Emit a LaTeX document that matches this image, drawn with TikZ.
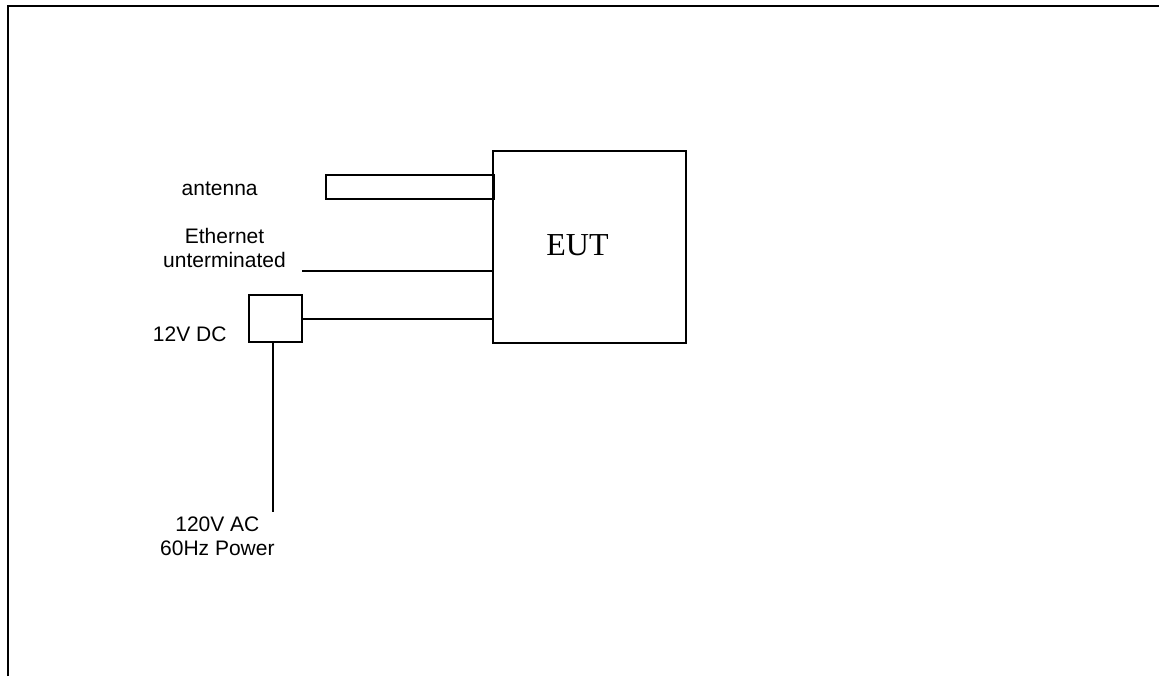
\documentclass[tikz,border=0pt]{standalone}
\usepackage{fontspec}
\setmainfont{Liberation Sans}
\newfontfamily\eutfont{Liberation Serif}
\usetikzlibrary{positioning}

\begin{document}
\begin{tikzpicture}[x=0.5pt, y=-0.5pt, line width=0.8pt,
  unit/.style={draw, inner sep=0pt, outer sep=0pt},
  lbl/.style={anchor=base, align=center, font=\fontsize{10.5}{12}\selectfont}]
  \useasboundingbox (0,0) rectangle (1159,676);
  % frame
  \draw[line width=1pt] (7.7,676) -- (7.7,6.2) -- (1159,6.2);
  % boxes
  \node[unit, minimum width=96.5pt, minimum height=96pt] (eut) at (589.5,247) {};
  \node[unit, minimum width=84pt, minimum height=12pt] (ant) at (410,187) {};
  \node[unit, minimum width=26.5pt, minimum height=23.5pt] (dc) at (275.5,318.5) {};
  % cables
  \coordinate (ethend) at (302,271);
  \coordinate (dcend) at (302,319);
  \coordinate (acend) at (273,512);
  \draw (ethend) -- (ethend -| eut.west);
  \draw (dcend) -- (dcend -| eut.west);
  \draw (acend |- dc.south) -- (acend);
  % labels
  \node[anchor=base, font=\eutfont\fontsize{16}{19}\selectfont] (eutlbl) at (577.5,255.7) {EUT};
  \node[lbl] (antlbl) at (219.7,195) {antenna};
  \node[lbl] (ethlbl) at (224.5,267.3) {Ethernet\\unterminated};
  \node[lbl] (dclbl) at (189.7,341) {12V DC};
  \node[lbl] (aclbl) at (217.4,555) {120V AC\\60Hz Power};
\end{tikzpicture}
\end{document}
